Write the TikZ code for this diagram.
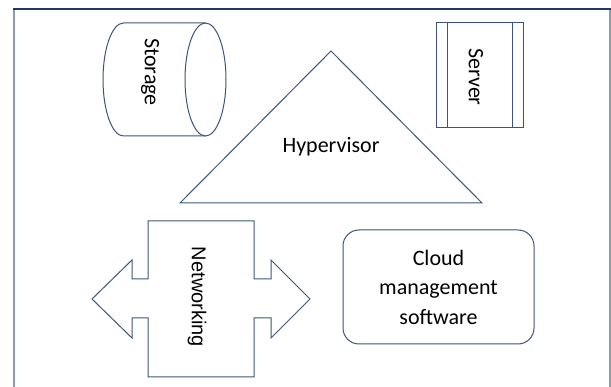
\documentclass[tikz,border=0pt]{standalone}
\usepackage{fontspec}
\setmainfont{Carlito}
\newfontfamily\arialfont{Liberation Sans}
\definecolor{edge}{HTML}{3B5478}
\definecolor{frametop}{HTML}{203864}
\definecolor{frameside}{HTML}{8C9BB0}
\begin{document}
\begin{tikzpicture}[x=1pt,y=-1pt,
  shapeline/.style={draw=edge,line width=1pt,line join=miter},
  label/.style={font=\fontsize{22}{29.5}\selectfont,text=black,inner sep=0pt}]
\useasboundingbox (0,0) rectangle (611,387);
% outer frame
\draw[frameside,line width=2pt] (14,9) -- (14,390);
\draw[frameside,line width=1.2pt] (610,9) -- (610,390);
\draw[frametop,line width=1.5pt] (13,9) -- (611,9);

% storage cylinder
\draw[shapeline] (205.5,23) -- (123.5,23)
  arc[start angle=-90,end angle=-270,x radius=20.5,y radius=56.5]
  -- (205.5,136);
\draw[shapeline] (205.5,79.5) ellipse[x radius=20.5,y radius=56.5];
\node[label,rotate=-90] (storage) at (150,72) {Storage};

% server box
\draw[shapeline] (436,23) rectangle (523,128);
\draw[shapeline] (447,23) -- (447,128);
\draw[shapeline] (512,23) -- (512,128);
\node[label,rotate=-90] (server) at (476,77) {Server};

% hypervisor triangle
\draw[shapeline] (331,51) -- (482,203) -- (180,203) -- cycle;
\node[label] (hyper) at (331,147) {Hypervisor};

% networking double arrow
\draw[shapeline] (148,221) -- (254,221) -- (254,279) -- (271,279) -- (271,260)
  -- (310,299) -- (271,338) -- (271,318) -- (254,318) -- (254,377)
  -- (148,377) -- (148,318) -- (132,318) -- (132,338) -- (92,299)
  -- (132,260) -- (132,279) -- (148,279) -- cycle;
\node[inner sep=0pt,rotate=-90,font=\arialfont\fontsize{20}{24}\selectfont] (net) at (197,297) {Networking};

% cloud management box
\node[shapeline,rounded corners=16pt,minimum width=191pt,minimum height=114pt,
  label,align=center] (cloud) at (438.5,287) {Cloud\\management\\software};
\end{tikzpicture}
\end{document}
